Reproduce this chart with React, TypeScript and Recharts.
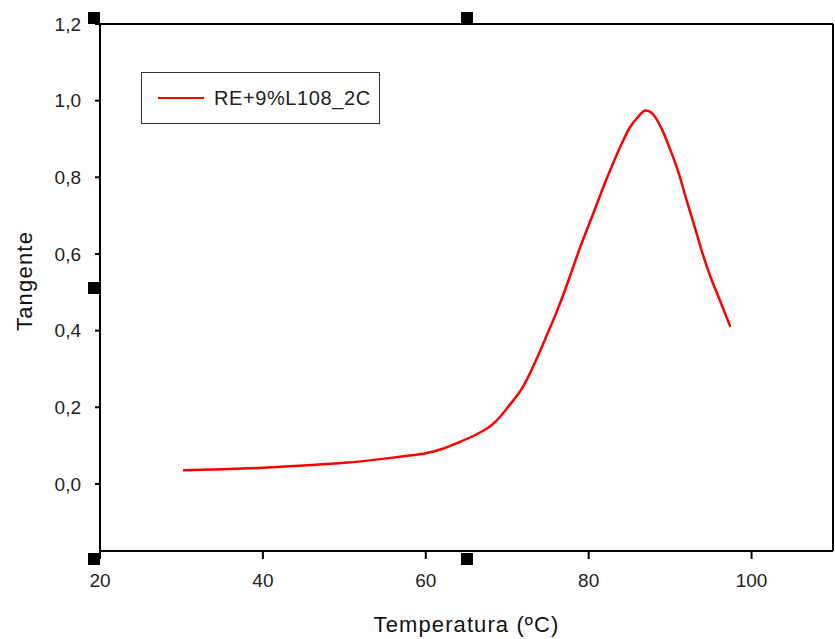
import React from 'react';
import { LineChart, Line, XAxis, YAxis, ReferenceLine, Customized } from 'recharts';

// Temperature (ºC) and loss tangent values
const temperature = [30.2, 35, 40, 45, 50, 55, 58, 60, 62, 64, 66, 67, 68, 69, 70, 72, 74, 75, 76, 77, 78, 79, 80, 81, 82, 84, 85, 86, 87, 88, 89, 90, 91, 92, 93, 94, 95, 96, 97.4];
const tangent = [0.036, 0.038, 0.042, 0.048, 0.055, 0.066, 0.074, 0.08, 0.091, 0.108, 0.127, 0.138, 0.152, 0.172, 0.198, 0.256, 0.345, 0.395, 0.445, 0.5, 0.56, 0.62, 0.675, 0.73, 0.785, 0.885, 0.928, 0.956, 0.974, 0.962, 0.925, 0.873, 0.815, 0.742, 0.672, 0.6, 0.538, 0.485, 0.41];
const xTicks = [20, 40, 60, 80, 100];
const yTicks = [0, 0.2, 0.4, 0.6, 0.8, 1.0, 1.2];
const seriesName = 'RE+9%L108_2C';
const xTitle = 'Temperatura (ºC)';
const yTitle = 'Tangente';

const data = temperature.map((t, i) => ({ t, v: tangent[i] }));

const FONT = '"Liberation Sans", Arial, sans-serif';
const W = 835;
const H = 639;
const M = { top: 24, right: 2, bottom: 0, left: 40 };
const YAXIS_W = 60;
const XAXIS_H = 88;

const LegendBox = () => (
  <div
    style={{
      position: 'absolute',
      left: 141,
      top: 72,
      width: 239,
      height: 52,
      boxSizing: 'border-box',
      border: '1px solid #333',
      background: '#fff',
      display: 'flex',
      alignItems: 'center',
      fontFamily: FONT,
      fontSize: 20,
      color: '#222',
    }}
  >
    <div style={{ marginLeft: 16, width: 46, height: 2.5, background: '#ff0000' }} />
    <span style={{ marginLeft: 10, letterSpacing: 0.6 }}>{seriesName}</span>
  </div>
);

const Titles = () => {
  const plotLeft = M.left + YAXIS_W;
  const plotW = W - M.right - plotLeft;
  const cx = plotLeft + plotW / 2;
  const ycx = 32;
  const ycy = 281;
  return (
    <g fontFamily={FONT} fill="#111">
      <text x={cx} y={H - 7} textAnchor="middle" fontSize={22} letterSpacing={1.1}>
        {xTitle}
      </text>
      <text
        x={ycx}
        y={ycy}
        textAnchor="middle"
        fontSize={22}
        letterSpacing={1.2}
        transform={`rotate(-90 ${ycx} ${ycy})`}
      >
        {yTitle}
      </text>
    </g>
  );
};

const handles = [
  { left: 88, top: 12 },
  { left: 461, top: 12 },
  { left: 88, top: 282 },
  { left: 88, top: 553 },
  { left: 461, top: 553 },
];

export default function App() {
  return (
    <div style={{ position: 'absolute', left: 0, top: 0, width: W, height: H, background: '#fff' }}>
      <LineChart width={W} height={H} data={data} margin={M}>
        <XAxis
          dataKey="t"
          type="number"
          domain={[20, 110]}
          ticks={xTicks}
          interval={0}
          allowDataOverflow
          height={XAXIS_H}
          axisLine={{ stroke: '#000', strokeWidth: 2 }}
          tickLine={{ stroke: '#000', strokeWidth: 2 }}
          tickSize={8}
          tickMargin={15}
          tick={{ fill: '#222', fontSize: 19, fontFamily: FONT }}
        />
        <YAxis
          type="number"
          domain={[-0.175, 1.2]}
          ticks={yTicks}
          interval={0}
          allowDataOverflow
          width={YAXIS_W}
          axisLine={{ stroke: '#000', strokeWidth: 2 }}
          tickLine={{ stroke: '#000', strokeWidth: 2 }}
          tickSize={5}
          tickMargin={14}
          tick={{ fill: '#222', fontSize: 19, fontFamily: FONT }}
          tickFormatter={(v: number) => v.toFixed(1).replace('.', ',')}
        />
        <ReferenceLine y={1.2} stroke="#000" strokeWidth={2} />
        <ReferenceLine x={110} stroke="#000" strokeWidth={2} />
        <Line
          type="monotone"
          dataKey="v"
          name={seriesName}
          stroke="#ff0000"
          strokeWidth={2.5}
          dot={false}
          isAnimationActive={false}
        />
        <Customized component={Titles} />
      </LineChart>
      <LegendBox />
      {handles.map((h, i) => (
        <div
          key={i}
          style={{ position: 'absolute', left: h.left, top: h.top, width: 12, height: 12, background: '#000' }}
        />
      ))}
    </div>
  );
}
